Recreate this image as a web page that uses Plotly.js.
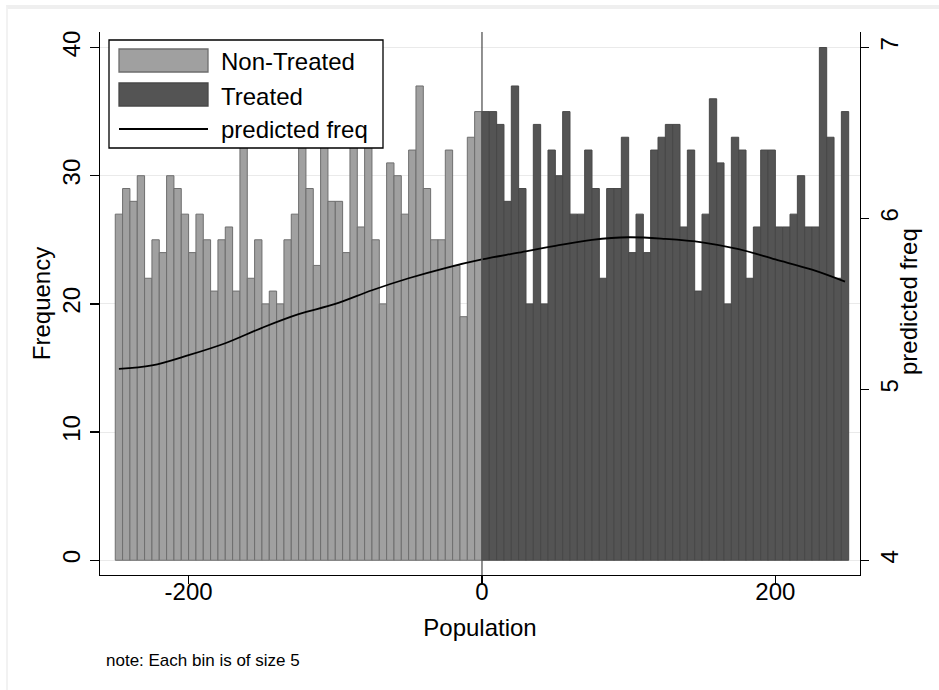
<!DOCTYPE html>
<html>
<head>
<meta charset="utf-8">
<script src="https://cdn.plot.ly/plotly-3.0.1.min.js"></script>
<style>
  html, body { margin: 0; padding: 0; background: #ffffff; }
  #wrap { position: relative; width: 939px; height: 690px; overflow: hidden; }
  #chart { position: absolute; left: 0; top: 0; width: 939px; height: 690px; }
  #frame { position: absolute; left: 6px; top: 5px; width: 933px; height: 685px;
           border-top: 4px solid #efefef; border-left: 2px solid #f2f2f2;
           box-sizing: border-box; pointer-events: none; }
</style>
</head>
<body>
<div id="wrap">
  <div id="chart"></div>
  <div id="frame"></div>
</div>
<script>
// ---- data ----
const binStart = -250;
const binWidth = 5;
const nonTreatedCounts = [27, 29, 28, 30, 22, 25, 24, 30, 29, 27,
                          24, 27, 25, 21, 25, 26, 21, 34, 22, 25,
                          20, 21, 20, 25, 27, 33, 29, 23, 35, 28,
                          28, 24, 33, 26, 34, 25, 20, 31, 30, 27,
                          32, 37, 29, 25, 25, 32, 23, 19, 33, 35];
const treatedCounts = [35, 35, 34, 28, 37, 29, 20, 34, 20, 32,
                       30, 35, 27, 27, 32, 29, 22, 29, 29, 33,
                       24, 27, 24, 32, 33, 34, 34, 26, 32, 21,
                       27, 36, 31, 20, 33, 32, 22, 26, 32, 32,
                       26, 26, 27, 30, 26, 26, 40, 33, 22, 35];
const predX = [-247.5, -225, -200, -175, -150, -125, -100, -75, -50, -25, 0,
               25, 50, 75, 100, 125, 150, 175, 200, 225, 247.5];
const predFreq = [5.12, 5.14, 5.20, 5.27, 5.36, 5.44, 5.50, 5.58, 5.65, 5.71, 5.76,
                  5.80, 5.84, 5.875, 5.89, 5.88, 5.86, 5.82, 5.76, 5.70, 5.63];
const xTicks = [-200, 0, 200];
const yTicks = [0, 10, 20, 30, 40];
const y2Ticks = [4, 5, 6, 7];
const seriesNames = ['Non-Treated', 'Treated', 'predicted freq'];

// bin centres (categories)
const nonTreatedX = nonTreatedCounts.map((_, i) => binStart + binWidth * (i + 0.5));
const treatedX = treatedCounts.map((_, i) => binStart + binWidth * (nonTreatedCounts.length + i + 0.5));

const FONT = 'Liberation Sans, Arial, sans-serif';
const LIGHT = '#a0a0a0', LIGHT_LINE = '#6e6e6e';
const DARK = '#545454', DARK_LINE = '#484848';

const traces = [
  { type: 'bar', name: seriesNames[0], x: nonTreatedX, y: nonTreatedCounts, width: binWidth,
    marker: { color: LIGHT, line: { color: LIGHT_LINE, width: 1 } }, showlegend: false, yaxis: 'y' },
  { type: 'bar', name: seriesNames[1], x: treatedX, y: treatedCounts, width: binWidth,
    marker: { color: DARK, line: { color: DARK_LINE, width: 1 } }, showlegend: false, yaxis: 'y' },
  { type: 'scatter', mode: 'lines', name: seriesNames[2], x: predX, y: predFreq, yaxis: 'y2',
    line: { color: '#000000', width: 1.8, shape: 'spline', smoothing: 1 }, showlegend: false }
];

// legend geometry in paper coordinates (plot area: x 100..860 px, y 32..575 px)
const px = v => (v - 100) / 760;
const py = v => (575 - v) / 543;

const shapes = [
  { type: 'line', xref: 'x', yref: 'paper', x0: 0, x1: 0, y0: 0, y1: 1,
    line: { color: '#555555', width: 1.3 }, layer: 'above' },
  { type: 'rect', xref: 'paper', yref: 'paper', x0: px(109), x1: px(383), y0: py(148), y1: py(40),
    fillcolor: '#ffffff', line: { color: '#000000', width: 1.3 }, layer: 'above' },
  { type: 'rect', xref: 'paper', yref: 'paper', x0: px(119), x1: px(208), y0: py(72), y1: py(49),
    fillcolor: LIGHT, line: { color: LIGHT_LINE, width: 1.3 }, layer: 'above' },
  { type: 'rect', xref: 'paper', yref: 'paper', x0: px(119), x1: px(208), y0: py(106), y1: py(83),
    fillcolor: DARK, line: { color: DARK_LINE, width: 1.3 }, layer: 'above' },
  { type: 'line', xref: 'paper', yref: 'paper', x0: px(119), x1: px(208), y0: py(129), y1: py(129),
    line: { color: '#000000', width: 1.8 }, layer: 'above' }
];

const legendFont = { family: FONT, size: 24, color: '#000000' };
const annotations = [
  { xref: 'paper', yref: 'paper', x: px(219), y: py(62), xanchor: 'left', yanchor: 'middle',
    text: seriesNames[0], showarrow: false, font: legendFont },
  { xref: 'paper', yref: 'paper', x: px(219), y: py(96), xanchor: 'left', yanchor: 'middle',
    text: seriesNames[1], showarrow: false, font: legendFont },
  { xref: 'paper', yref: 'paper', x: px(219), y: py(129), xanchor: 'left', yanchor: 'middle',
    text: seriesNames[2], showarrow: false, font: legendFont },
  { xref: 'paper', yref: 'paper', x: px(908), y: py(302), xanchor: 'center', yanchor: 'middle',
    textangle: -90, text: 'predicted freq', showarrow: false, font: legendFont },
  { xref: 'paper', yref: 'paper', x: px(104), y: py(660), xanchor: 'left', yanchor: 'middle',
    text: 'note: Each bin is of size 5', showarrow: false,
    font: { family: FONT, size: 17, color: '#000000' } }
];

const layout = {
  width: 939, height: 690,
  margin: { l: 100, r: 79, t: 32, b: 115, pad: 0 },
  paper_bgcolor: '#ffffff', plot_bgcolor: '#ffffff',
  barmode: 'overlay', bargap: 0,
  font: { family: FONT, size: 24, color: '#000000' },
  showlegend: false,
  xaxis: {
    range: [-260.4, 257.7], tickvals: xTicks, ticktext: xTicks.map(String),
    ticks: 'outside', ticklen: 8, tickwidth: 1.3, tickcolor: '#000000',
    ticklabelstandoff: -13,
    showline: true, linecolor: '#000000', linewidth: 1.3,
    showgrid: false, zeroline: false, automargin: false,
    tickfont: { family: FONT, size: 24, color: '#000000' },
    title: { text: 'Population', standoff: 15, font: { family: FONT, size: 24, color: '#000000' } }
  },
  yaxis: {
    range: [-1.15, 41.21], tickvals: yTicks, ticktext: yTicks.map(String),
    ticks: 'outside', ticklen: 9, tickwidth: 1.3, tickcolor: '#000000', tickangle: -90,
    showline: true, linecolor: '#000000', linewidth: 1.3,
    showgrid: true, gridcolor: '#eaeaea', gridwidth: 1, zeroline: false, automargin: false,
    tickfont: { family: FONT, size: 24, color: '#000000' },
    title: { text: 'Frequency', standoff: 0, font: { family: FONT, size: 24, color: '#000000' } }
  },
  yaxis2: {
    overlaying: 'y', side: 'right',
    range: [3.914, 7.0907], tickvals: y2Ticks, ticktext: y2Ticks.map(String),
    ticks: 'outside', ticklen: 8, tickwidth: 1.3, tickcolor: '#000000', tickangle: -90,
    showline: true, linecolor: '#000000', linewidth: 1.3,
    showgrid: false, zeroline: false, automargin: false,
    tickfont: { family: FONT, size: 24, color: '#000000' }
  },
  shapes: shapes,
  annotations: annotations
};

Plotly.newPlot('chart', traces, layout, { staticPlot: true, displayModeBar: false });
</script>
</body>
</html>
